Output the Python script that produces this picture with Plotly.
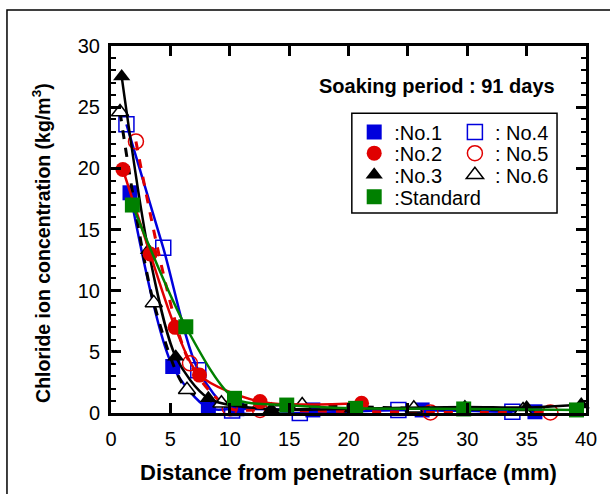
import plotly.graph_objects as go

# ---- data ----
no1_x = [1.6, 5.2, 8.2, 10.6, 17.0, 26.2, 35.7]
no1_y = [18.0, 3.8, 0.4, 0.35, 0.25, 0.25, 0.1]

no2_x = [1.0, 3.3, 5.4, 7.45, 12.55, 21.1]
no2_y = [19.9, 13.0, 7.0, 3.1, 0.93, 0.8]

no3_x = [0.9, 3.15, 5.45, 8.2, 13.5, 20.3, 29.8, 35.0, 39.6]
no3_y = [27.5, 13.3, 4.6, 1.2, 0.3, 0.35, 0.5, 0.45, 0.7]

no4_x = [1.3, 4.4, 7.35, 10.2, 15.9, 24.2, 33.8]
no4_y = [23.6, 13.5, 3.5, 0.2, 0.0, 0.25, 0.1]

no5_x = [2.1, 6.65, 10.0, 12.55, 26.9, 37.0]
no5_y = [22.2, 4.06, 0.38, 0.25, 0.05, 0.05]

no6_x = [0.76, 3.6, 6.4, 9.3, 16.1, 25.5, 34.7]
no6_y = [24.6, 9.0, 1.9, 0.8, 0.65, 0.38, 0.25]

std_x = [1.8, 6.3, 10.4, 14.8, 20.6, 29.7, 39.2]
std_y = [17.0, 7.05, 1.2, 0.65, 0.38, 0.33, 0.25]

x_ticks = [0, 5, 10, 15, 20, 25, 30, 35, 40]
y_ticks = [0, 5, 10, 15, 20, 25, 30]

BLUE = "#0000dd"
RED = "#e00000"
BLACK = "#000000"
GREEN = "#008000"
FONT = "Liberation Sans, Arial, sans-serif"

MS = 15
M_NO1 = dict(symbol="square", size=MS, color=BLUE)
M_NO2 = dict(symbol="circle", size=MS, color=RED)
M_NO3 = dict(symbol="triangle-up", size=MS, color=BLACK)
M_NO4 = dict(symbol="square-open", size=MS, color=BLUE, line=dict(width=1.5))
M_NO5 = dict(symbol="circle-open", size=MS, color=RED, line=dict(width=1.5))
M_NO6 = dict(symbol="triangle-up", size=MS, color="white", line=dict(color=BLACK, width=1.5))
M_STD = dict(symbol="square", size=MS, color=GREEN)

fig = go.Figure()


def add_data(x, y, color, marker, dash, lw):
    fig.add_trace(go.Scatter(
        x=x, y=y, mode="lines+markers", showlegend=False,
        line=dict(color=color, width=lw, dash=dash, shape="spline", smoothing=0.8),
        marker=marker, cliponaxis=False, hoverinfo="x+y",
    ))


add_data(no4_x, no4_y, BLUE, M_NO4, "solid", 2.5)
add_data(no1_x, no1_y, BLUE, M_NO1, "solid", 2.5)
add_data(no5_x, no5_y, RED, M_NO5, "dash", 3)
add_data(no6_x, no6_y, BLACK, M_NO6, "dash", 3)
add_data(no3_x, no3_y, BLACK, M_NO3, "solid", 2.5)
add_data(no2_x, no2_y, RED, M_NO2, "solid", 2.5)
add_data(std_x, std_y, GREEN, M_STD, "solid", 2.5)

# legend entries (markers only), one legend per entry for exact placement
legend_items = [
    (":No.1", M_NO1, "legend"),
    (":No.2", M_NO2, "legend2"),
    (":No.3", M_NO3, "legend3"),
    (":Standard", M_STD, "legend4"),
    (": No.4", M_NO4, "legend5"),
    (": No.5", M_NO5, "legend6"),
    (": No.6", M_NO6, "legend7"),
]
for name, mk, lg in legend_items:
    fig.add_trace(go.Scatter(x=[None], y=[None], mode="markers", name=name,
                             marker=mk, legend=lg, showlegend=True))

axis_common = dict(
    showline=True, linecolor="black", linewidth=3, mirror="ticks",
    ticks="inside", ticklen=10, tickwidth=2.5, tickcolor="black",
    showgrid=False, zeroline=False,
    tickfont=dict(family=FONT, size=20, color="black"),
)

fig.update_xaxes(range=[0, 40], tickvals=x_ticks, ticktext=[str(v) for v in x_ticks],
                 ticklabelstandoff=6, **axis_common)
fig.update_yaxes(range=[0, 30], tickvals=y_ticks, ticktext=[str(v) for v in y_ticks],
                 minor=dict(dtick=1, ticks="inside", ticklen=5, tickwidth=2, tickcolor="black"),
                 ticklabelstandoff=4, **axis_common)

legend_common = dict(
    font=dict(family=FONT, size=20, color="black"),
    bgcolor="rgba(0,0,0,0)", borderwidth=0, itemwidth=30,
    yanchor="middle", xanchor="left", orientation="v",
)
row_y = [0.766, 0.708, 0.649, 0.589]
col_x = [0.512, 0.724]
legends = {}
names = ["legend", "legend2", "legend3", "legend4", "legend5", "legend6", "legend7"]
for i, lg in enumerate(names):
    col = 0 if i < 4 else 1
    row = i if i < 4 else i - 4
    legends[lg] = dict(x=col_x[col], y=row_y[row], **legend_common)

fig.update_layout(
    width=610, height=494,
    margin=dict(l=111, r=24, t=46, b=81, autoexpand=False),
    paper_bgcolor="white", plot_bgcolor="white",
    font=dict(family=FONT, size=20, color="black"),
    annotations=[
        dict(text="<b>Soaking period : 91 days</b>", xref="paper", yref="paper",
             x=0.939, y=0.891, xanchor="right", yanchor="middle", showarrow=False,
             font=dict(family=FONT, size=20, color="black")),
        dict(text="<b>Distance from penetration surface (mm)</b>", xref="paper", yref="paper",
             x=0.5, y=-0.161, xanchor="center", yanchor="middle", showarrow=False,
             font=dict(family=FONT, size=22, color="black")),
        dict(text="<b>Chloride ion concentration (kg/m<sup>3</sup>)</b>", xref="paper",
             yref="paper", x=-0.147, y=0.464, xanchor="center", yanchor="middle",
             showarrow=False, textangle=-90,
             font=dict(family=FONT, size=19.5, color="black")),
    ],
    shapes=[
        dict(type="rect", xref="paper", yref="paper", x0=0.507, x1=0.939,
             y0=0.545, y1=0.817, line=dict(color="black", width=1.5)),
        dict(type="rect", xref="paper", yref="paper", x0=-0.219, x1=1.2,
             y0=-0.4, y1=1.098, line=dict(color="black", width=1.5)),
    ],
    **legends,
)

fig.write_html("out.html", config={"displayModeBar": False},
               post_script="document.body.style.margin='0px';")
